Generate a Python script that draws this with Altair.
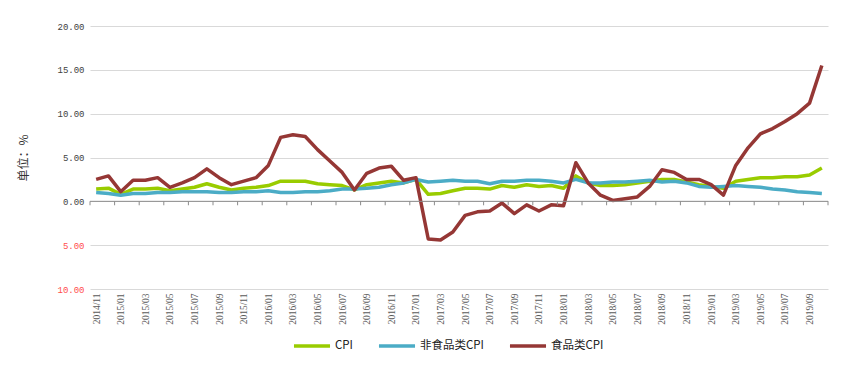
import altair as alt
import pandas as pd

months = [
    "2014/11", "2014/12",
    "2015/01", "2015/02", "2015/03", "2015/04", "2015/05", "2015/06",
    "2015/07", "2015/08", "2015/09", "2015/10", "2015/11", "2015/12",
    "2016/01", "2016/02", "2016/03", "2016/04", "2016/05", "2016/06",
    "2016/07", "2016/08", "2016/09", "2016/10", "2016/11", "2016/12",
    "2017/01", "2017/02", "2017/03", "2017/04", "2017/05", "2017/06",
    "2017/07", "2017/08", "2017/09", "2017/10", "2017/11", "2017/12",
    "2018/01", "2018/02", "2018/03", "2018/04", "2018/05", "2018/06",
    "2018/07", "2018/08", "2018/09", "2018/10", "2018/11", "2018/12",
    "2019/01", "2019/02", "2019/03", "2019/04", "2019/05", "2019/06",
    "2019/07", "2019/08", "2019/09", "2019/10",
]

cpi = [
    1.4, 1.5,
    0.8, 1.4, 1.4, 1.5, 1.2, 1.4, 1.6, 2.0, 1.6, 1.3, 1.5, 1.6,
    1.8, 2.3, 2.3, 2.3, 2.0, 1.9, 1.8, 1.3, 1.9, 2.1, 2.3, 2.1,
    2.5, 0.8, 0.9, 1.2, 1.5, 1.5, 1.4, 1.8, 1.6, 1.9, 1.7, 1.8,
    1.5, 2.9, 2.1, 1.8, 1.8, 1.9, 2.1, 2.3, 2.5, 2.5, 2.2, 1.9,
    1.7, 1.5, 2.3, 2.5, 2.7, 2.7, 2.8, 2.8, 3.0, 3.8,
]

non_food = [
    1.0, 0.9,
    0.7, 0.9, 0.9, 1.0, 1.0, 1.1, 1.1, 1.1, 1.0, 1.0, 1.1, 1.1,
    1.2, 1.0, 1.0, 1.1, 1.1, 1.2, 1.4, 1.4, 1.5, 1.6, 1.9, 2.1,
    2.5, 2.2, 2.3, 2.4, 2.3, 2.3, 2.0, 2.3, 2.3, 2.4, 2.4, 2.3,
    2.1, 2.5, 2.1, 2.1, 2.2, 2.2, 2.3, 2.4, 2.2, 2.3, 2.1, 1.7,
    1.6, 1.7, 1.8, 1.7, 1.6, 1.4, 1.3, 1.1, 1.0, 0.9,
]

food = [
    2.5, 2.9,
    1.1, 2.4, 2.4, 2.7, 1.6, 2.1, 2.7, 3.7, 2.7, 1.9, 2.3, 2.7,
    4.1, 7.3, 7.6, 7.4, 5.9, 4.6, 3.3, 1.3, 3.2, 3.8, 4.0, 2.4,
    2.7, -4.3, -4.4, -3.5, -1.6, -1.2, -1.1, -0.2, -1.4, -0.4, -1.1, -0.4,
    -0.5, 4.4, 2.1, 0.7, 0.1, 0.3, 0.5, 1.7, 3.6, 3.3, 2.5, 2.5,
    1.9, 0.7, 4.1, 6.1, 7.7, 8.3, 9.1, 10.0, 11.2, 15.5,
]

series_names = ["CPI", "非食品类CPI", "食品类CPI"]
series_colors = ["#99CC00", "#4BACC6", "#953735"]
y_ticks = [-10, -5, 0, 5, 10, 15, 20]

rows = []
for name, vals in zip(series_names, [cpi, non_food, food]):
    for i, (m, v) in enumerate(zip(months, vals)):
        rows.append({"idx": i, "month": m, "series": name, "value": v})
df = pd.DataFrame(rows)

n = len(months)
label_idx = [i for i, m in enumerate(months) if int(m[-2:]) % 2 == 1]
tick_pos = [i - 0.5 for i in label_idx] + [n - 0.5]
label_array = "[" + ",".join("'%s'" % m for m in months) + "]"

x_scale = alt.Scale(domain=[-0.5, n - 0.5], nice=False, zero=False)
y_scale = alt.Scale(domain=[-10, 20], nice=False, zero=False)

x_axis = alt.Axis(
    values=label_idx,
    labelExpr=label_array + "[datum.value]",
    labelAngle=-90,
    labelAlign="right",
    labelBaseline="middle",
    ticks=False,
    domain=False,
    grid=False,
    labelFont="Liberation Sans Narrow",
    labelFontSize=9.5,
    labelColor="#595959",
    labelPadding=4,
    labelOverlap=False,
    labelBound=False,
    labelFlush=False,
    title=None,
)

y_axis = alt.Axis(
    values=y_ticks,
    labelExpr="format(abs(datum.value), '.2f')",
    labelColor={"condition": {"test": "datum.value < 0", "value": "#FF4D4D"}, "value": "#404040"},
    labelFont="Liberation Mono",
    labelFontSize=9,
    labelPadding=6,
    labelOverlap=False,
    ticks=False,
    domain=False,
    grid=True,
    gridColor="#D9D9D9",
    gridWidth=1,
    title="单位：%",
    titleFont="Noto Sans CJK SC",
    titleFontSize=12,
    titleFontWeight="normal",
    titleColor="#333333",
    titlePadding=26,
)

lines = alt.Chart(df).mark_line(strokeWidth=3.5, strokeJoin="round").encode(
    x=alt.X("idx:Q", scale=x_scale, axis=x_axis),
    y=alt.Y("value:Q", scale=y_scale, axis=y_axis),
    color=alt.Color(
        "series:N",
        scale=alt.Scale(domain=series_names, range=series_colors),
        legend=alt.Legend(
            orient="none",
            legendX=202,
            legendY=300,
            direction="horizontal",
            title=None,
            symbolType="stroke",
            symbolSize=1300,
            symbolStrokeWidth=3.5,
            labelFont="Noto Sans CJK SC",
            labelFontSize=11.5,
            labelColor="#222222",
            columnPadding=18,
            labelOffset=3,
        ),
    ),
    order=alt.Order("idx:Q"),
)

zero_line = alt.Chart(pd.DataFrame({"value": [0]})).mark_rule(
    color="#8C8C8C", strokeWidth=1
).encode(y=alt.Y("value:Q", scale=y_scale, axis=y_axis))

tick_df = pd.DataFrame({"idx": tick_pos, "value": [0] * len(tick_pos), "value2": [-0.45] * len(tick_pos)})
tick_marks = alt.Chart(tick_df).mark_rule(color="#8C8C8C", strokeWidth=1).encode(
    x=alt.X("idx:Q", scale=x_scale, axis=x_axis),
    y=alt.Y("value:Q", scale=y_scale, axis=y_axis),
    y2="value2:Q",
)

chart = alt.layer(lines, zero_line, tick_marks).properties(
    width=738,
    height=263,
    autosize=alt.AutoSizeParams(type="none"),
    padding={"left": 82, "top": 18, "right": 20, "bottom": 80},
    background="white",
).configure_view(stroke=None)

chart.save("out.html", embed_options={"renderer": "svg", "actions": False})
